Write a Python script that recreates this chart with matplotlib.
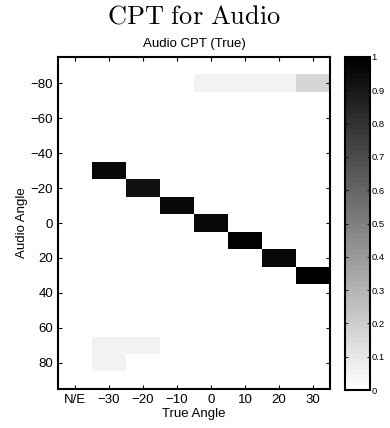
import numpy as np
import matplotlib
matplotlib.use("Agg")
import matplotlib.pyplot as plt

plt.rcParams['font.family'] = ['Liberation Sans', 'DejaVu Sans']
plt.rcParams['mathtext.fontset'] = 'cm'

true_labels = ['N/E', '\u221230', '\u221220', '\u221210', '0', '10', '20', '30']
true_angles = [-40, -30, -20, -10, 0, 10, 20, 30]
audio_angles = list(range(-90, 91, 10))

# CPT values: rows = audio angle, columns = true angle
col_NE = {}
col_m30 = {-30: 0.955, 70: 0.047, 80: 0.047}
col_m20 = {-20: 0.93, 70: 0.047}
col_m10 = {-10: 0.955}
col_0 = {0: 0.955, -80: 0.047}
col_10 = {10: 1.0, -80: 0.047}
col_20 = {20: 0.955, -80: 0.047}
col_30 = {30: 1.0, -80: 0.16}
columns = [col_NE, col_m30, col_m20, col_m10, col_0, col_10, col_20, col_30]

data = np.zeros((len(audio_angles), len(true_angles)))
for j, col in enumerate(columns):
    for ang, v in col.items():
        data[audio_angles.index(ang), j] = v

fig = plt.figure(figsize=(3.9, 4.28), dpi=100)
W, H = 390, 428
ax = fig.add_axes([58 / W, 1 - 389 / H, (330 - 58) / W, (389 - 57) / H])
cax = fig.add_axes([345 / W, 1 - 390 / H, (370 - 345) / W, (390 - 57) / H])

cmap = plt.get_cmap('gray_r', 64)
dx = 10
dy = 10
im = ax.imshow(data, cmap=cmap, vmin=0, vmax=1, aspect='auto', interpolation='nearest',
               origin='upper',
               extent=(true_angles[0] - dx / 2, true_angles[-1] + dx / 2,
                       audio_angles[-1] + dy / 2, audio_angles[0] - dy / 2))

ax.set_xticks(true_angles)
ax.set_xticklabels(true_labels)
ax.set_yticks([-80, -60, -40, -20, 0, 20, 40, 60, 80])
ax.tick_params(direction='in', top=True, right=True, labelsize=9.5, length=3, width=0.8)
for s in ax.spines.values():
    s.set_linewidth(1.5)
ax.set_xlabel('True Angle', fontsize=9.5, labelpad=1.5)
ax.set_ylabel('Audio Angle', fontsize=9.5, labelpad=2)
ax.set_title('Audio CPT (True)', fontsize=9.5, pad=7)
fig.text(0.5 * (58 + 330) / W, 1 - 17 / H, r'$\mathrm{CPT\ for\ Audio}$', ha='center', va='center', fontsize=19)

cb = fig.colorbar(im, cax=cax)
cb.set_ticks(np.round(np.arange(0, 1.01, 0.1), 1))
cb.set_ticklabels(['0', '0.1', '0.2', '0.3', '0.4', '0.5', '0.6', '0.7', '0.8', '0.9', '1'])
cax.tick_params(direction='in', labelsize=6.8, length=2, width=0.6, left=True, right=True, pad=1)
cb.outline.set_linewidth(1.5)

fig.savefig('out.png', dpi=100)
